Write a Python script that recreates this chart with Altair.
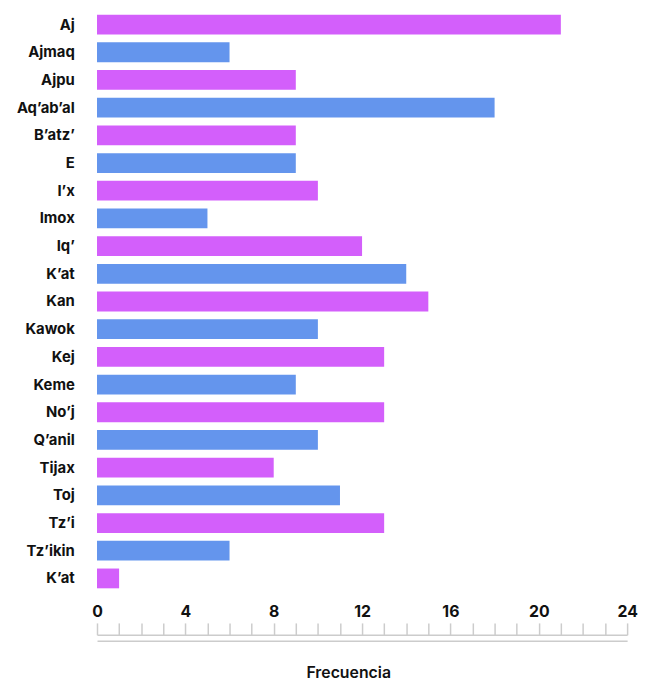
import json
import altair as alt
import pandas as pd

categorias = ["Aj", "Ajmaq", "Ajpu", "Aq’ab’al", "B’atz’", "E", "I’x", "Imox", "Iq’", "K’at",
              "Kan", "Kawok", "Kej", "Keme", "No’j", "Q’anil", "Tijax", "Toj", "Tz’i", "Tz’ikin", "K’at"]
frecuencias = [21, 6, 9, 18, 9, 9, 10, 5, 12, 14, 15, 10, 13, 9, 13, 10, 8, 11, 13, 6, 1]
grupos = ["a" if i % 2 == 0 else "b" for i in range(len(categorias))]
colores = ["#D35FFB", "#6495ED"]
ticks_x = list(range(0, 25))

FONT = "Inter"

df = pd.DataFrame({
    "orden": list(range(len(categorias))),
    "nombre": categorias,
    "Frecuencia": frecuencias,
    "grupo": grupos,
})
df_ticks = pd.DataFrame({"v": ticks_x})

label_expr = json.dumps(categorias, ensure_ascii=False) + "[datum.value]"

x_scale = alt.Scale(domain=[0, 24], nice=False)

y_enc = alt.Y(
    "orden:O",
    scale=alt.Scale(paddingInner=0.2857, paddingOuter=0.107),
    axis=alt.Axis(
        title=None, domain=False, ticks=False, labelPadding=23,
        labelFontSize=15, labelFontWeight="bold", labelColor="#111111",
        labelFont=FONT, minExtent=90, maxExtent=90, labelExpr=label_expr,
    ),
)

bars = alt.Chart(df).mark_bar().encode(
    x=alt.X(
        "Frecuencia:Q", scale=x_scale,
        axis=alt.Axis(
            orient="top", offset=-630, values=ticks_x, grid=False,
            domain=True, domainColor="#cccccc", domainWidth=1.5,
            ticks=True, tickSize=12, tickColor="#cccccc", tickWidth=1.5,
            labelExpr="datum.value % 4 == 0 ? datum.label : ''",
            labelFontSize=16, labelFontWeight="bold", labelColor="#111111",
            labelFont=FONT, labelPadding=3, title=None, labelFlush=False,
        ),
    ),
    y=y_enc,
    color=alt.Color("grupo:N", scale=alt.Scale(domain=["a", "b"], range=colores), legend=None),
)

base_axis = alt.Chart(df_ticks).mark_rule(opacity=0).encode(
    x=alt.X(
        "v:Q", scale=x_scale,
        axis=alt.Axis(
            orient="bottom", offset=50, values=[0, 24], grid=False,
            domain=True, domainColor="#cccccc", domainWidth=1.5,
            ticks=False, labels=False, title="Frecuencia",
            titleFont=FONT, titleFontSize=16, titleFontWeight=600, titleColor="#111111",
            titlePadding=24, titleX=254, titleAlign="center",
        ),
    ),
)

chart = alt.layer(bars, base_axis).resolve_axis(x="independent").properties(
    width=536, height=586, padding=0,
).configure_view(strokeWidth=0)

chart.save("out.html", embed_options={"renderer": "svg", "actions": False})
